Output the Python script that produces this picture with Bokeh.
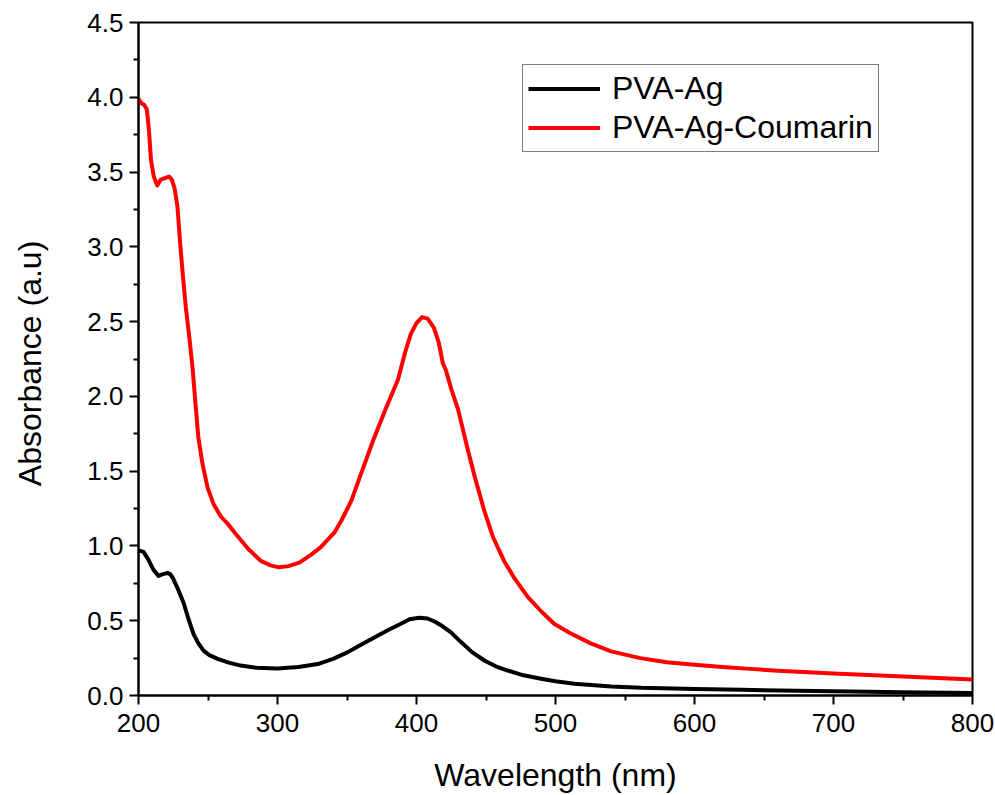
from bokeh.plotting import figure
from bokeh.models import Range1d, Legend, LegendItem, FixedTicker
from bokeh.embed import file_html
from bokeh.resources import INLINE

# PVA-Ag (black)
wl_ag = [200, 203.6, 207, 210.8, 214.4, 217, 220.9, 223, 225, 228, 232.4, 236, 239.6, 243,
         246.8, 251, 256.9, 265, 273.5, 285, 300, 315, 329, 340, 350.6, 360, 370, 380, 388.8,
         395, 402, 408, 413, 417.6, 425, 432, 440, 448.8, 457, 465.6, 477, 489.6, 500, 513.6,
         540, 561.7, 600, 634, 700, 750, 800]
abs_ag = [0.97, 0.96, 0.91, 0.84, 0.80, 0.81, 0.82, 0.81, 0.78, 0.72, 0.62, 0.51, 0.41, 0.35,
          0.30, 0.27, 0.245, 0.22, 0.20, 0.185, 0.18, 0.19, 0.21, 0.245, 0.29, 0.34, 0.39, 0.44, 0.48,
          0.51, 0.52, 0.515, 0.495, 0.47, 0.42, 0.357, 0.29, 0.234, 0.195, 0.167, 0.135, 0.112, 0.095,
          0.078, 0.06, 0.051, 0.044, 0.038, 0.028, 0.022, 0.016]

# PVA-Ag-Coumarin (red)
wl_cou = [200, 202, 204, 206, 207.5, 209, 211, 213.5, 216, 219, 222, 224, 226, 228, 230, 232,
          234, 236.5, 239, 241, 243, 246, 249.7, 254, 259, 264, 270, 279, 288, 295, 301, 308,
          316, 324, 331, 338, 341, 346, 353, 360, 369, 378, 386.6, 392, 396, 400, 404, 408,
          412.5, 416, 419, 421, 425, 430, 437, 442, 448.6, 455, 463, 470, 480, 490, 499, 510,
          525, 540, 561, 580, 600, 620, 640, 660, 700, 750, 800]
abs_cou = [3.99, 3.96, 3.95, 3.92, 3.78, 3.58, 3.47, 3.41, 3.45, 3.46, 3.47, 3.45, 3.39, 3.27,
           3.02, 2.80, 2.60, 2.40, 2.18, 1.95, 1.73, 1.55, 1.39, 1.28, 1.20, 1.15, 1.08, 0.98,
           0.90, 0.87, 0.857, 0.865, 0.89, 0.94, 0.99, 1.06, 1.09, 1.17, 1.30, 1.48, 1.71, 1.92,
           2.11, 2.30, 2.42, 2.49, 2.53, 2.52, 2.46, 2.36, 2.22, 2.18, 2.05, 1.91, 1.64, 1.46,
           1.24, 1.06, 0.90, 0.79, 0.66, 0.56, 0.48, 0.42, 0.35, 0.295, 0.25, 0.222, 0.205,
           0.19, 0.178, 0.165, 0.147, 0.127, 0.107]

x_ticks = [200, 300, 400, 500, 600, 700, 800]
y_ticks = [0.0, 0.5, 1.0, 1.5, 2.0, 2.5, 3.0, 3.5, 4.0, 4.5]

FONT = "Liberation Sans"

p = figure(width=995, height=795, output_backend="svg", toolbar_location=None,
           x_range=Range1d(200, 800), y_range=Range1d(0, 4.5),
           min_border_left=138, min_border_right=23, min_border_top=22, min_border_bottom=100)
p.xgrid.visible = False
p.ygrid.visible = False
p.background_fill_color = "white"
p.border_fill_color = "white"
p.outline_line_color = "black"
p.outline_line_width = 2
p.outline_line_alpha = 1

r1 = p.line(wl_ag, abs_ag, line_color="black", line_width=4, line_join="round")
r2 = p.line(wl_cou, abs_cou, line_color="#ff0000", line_width=4, line_join="round")

for ax in (p.xaxis[0], p.yaxis[0]):
    ax.axis_line_width = 2
    ax.axis_line_color = "black"
    ax.major_tick_line_width = 2
    ax.minor_tick_line_width = 2
    ax.major_tick_out = 9
    ax.major_tick_in = 0
    ax.minor_tick_out = 5
    ax.minor_tick_in = 0
    ax.major_label_text_font = FONT
    ax.major_label_text_font_size = "26px"
    ax.major_label_text_color = "black"
    ax.axis_label_text_font = FONT
    ax.axis_label_text_font_size = "32px"
    ax.axis_label_text_font_style = "normal"
    ax.axis_label_text_color = "black"

p.xaxis[0].ticker = FixedTicker(ticks=x_ticks, minor_ticks=[250, 350, 450, 550, 650, 750])
p.yaxis[0].ticker = FixedTicker(ticks=y_ticks,
                                minor_ticks=[0.25, 0.75, 1.25, 1.75, 2.25, 2.75, 3.25, 3.75, 4.25])
p.xaxis[0].major_label_overrides = {t: str(t) for t in x_ticks}
p.yaxis[0].major_label_overrides = {t: f"{t:.1f}" for t in y_ticks}
p.xaxis[0].axis_label = "Wavelength (nm)"
p.yaxis[0].axis_label = "Absorbance  (a.u)"
p.xaxis[0].major_label_standoff = 9
p.yaxis[0].major_label_standoff = 6
p.xaxis[0].axis_label_standoff = 22
p.yaxis[0].axis_label_standoff = 36

legend = Legend(items=[LegendItem(label="PVA-Ag", renderers=[r1]),
                       LegendItem(label="PVA-Ag-Coumarin", renderers=[r2])],
                location=(384, 543))
legend.label_text_font = FONT
legend.label_text_font_size = "32px"
legend.label_text_color = "black"
legend.glyph_width = 72
legend.glyph_height = 33
legend.label_height = 33
legend.spacing = 2
legend.padding = 5
legend.margin = 0
legend.border_line_color = "black"
legend.border_line_width = 1
legend.background_fill_alpha = 1
legend.label_standoff = 12
p.add_layout(legend, "center")

open("out.html", "w").write(file_html(p, INLINE))
